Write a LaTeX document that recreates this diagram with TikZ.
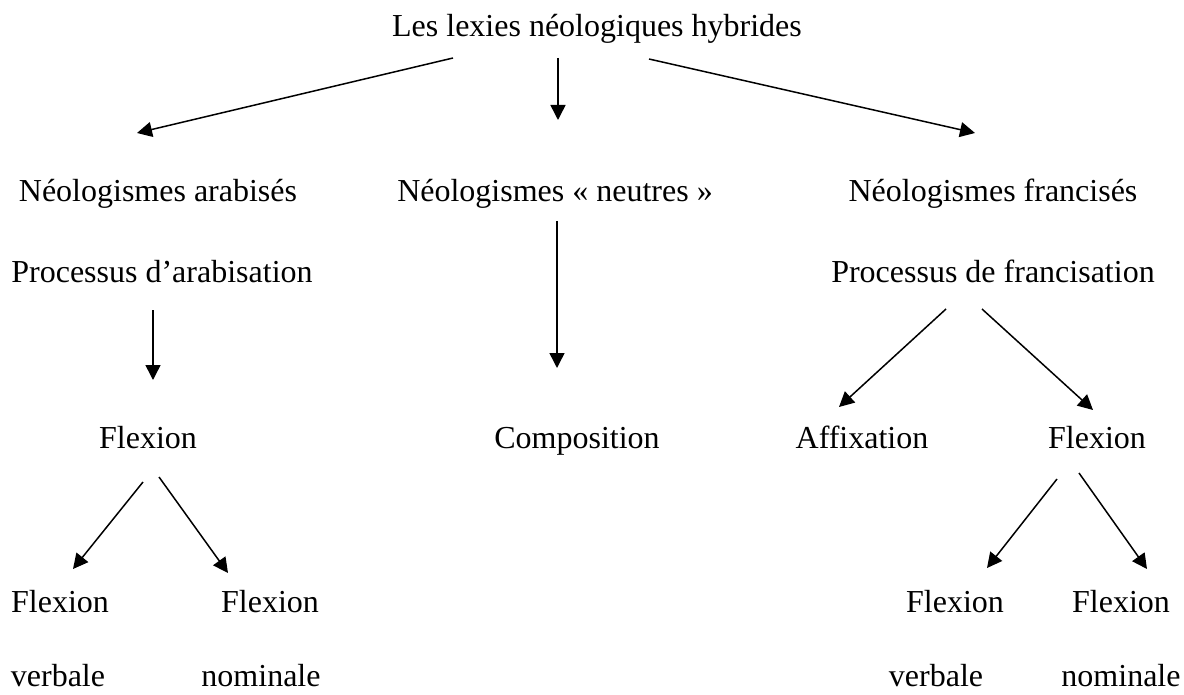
\documentclass[tikz,border=0pt]{standalone}
\usepackage{fontspec}
\setmainfont{Liberation Serif}
\usetikzlibrary{arrows.meta}
\begin{document}
\begin{tikzpicture}[x=1pt,y=-1pt,
  lbl/.style={inner sep=0pt,anchor=base,font=\fontsize{32}{38}\selectfont},
  arr/.style={line width=1.5pt,-{Triangle[length=15pt,width=15pt]}}]
\useasboundingbox (0,0) rectangle (1184,695);
\node[lbl] (top) at (597,37) {Les lexies néologiques hybrides};
\node[lbl] (arab) at (158,202) {Néologismes arabisés};
\node[lbl] (neutre) at (555,202) {Néologismes « neutres »};
\node[lbl] (franc) at (993,202) {Néologismes francisés};
\node[lbl] (parab) at (162,283) {Processus d’arabisation};
\node[lbl] (pfranc) at (993,283) {Processus de francisation};
\node[lbl] (flexA) at (148,448) {Flexion};
\node[lbl] (compo) at (577,448) {Composition};
\node[lbl] (affix) at (862,448) {Affixation};
\node[lbl] (flexF) at (1097,448) {Flexion};
\node[lbl] (fvA) at (60,612) {Flexion};
\node[lbl] (fnA) at (270,612) {Flexion};
\node[lbl] (fvF) at (955,612) {Flexion};
\node[lbl] (fnF) at (1121,612) {Flexion};
\node[lbl] (verbA) at (58,686) {verbale};
\node[lbl] (nomA) at (261,686) {nominale};
\node[lbl] (verbF) at (936,686) {verbale};
\node[lbl] (nomF) at (1121,686) {nominale};
\draw[arr] ([shift={(-144,21)}]top.base) -- ([shift={(-21,-69)}]arab.base);
\draw[arr] ([shift={(-39,21)}]top.base) -- ([shift={(3,-82)}]neutre.base);
\draw[arr] ([shift={(52,22)}]top.base) -- ([shift={(-18,-69)}]franc.base);
\draw[arr] ([shift={(-9,27)}]parab.base) -- ([shift={(5,-68)}]flexA.base);
\draw[arr] ([shift={(-5,34)}]flexA.base) -- ([shift={(13,-43)}]fvA.base);
\draw[arr] ([shift={(11,29)}]flexA.base) -- ([shift={(-42,-39)}]fnA.base);
\draw[arr] ([shift={(2,19)}]neutre.base) -- ([shift={(-20,-80)}]compo.base);
\draw[arr] ([shift={(-47,26)}]pfranc.base) -- ([shift={(-23,-41)}]affix.base);
\draw[arr] ([shift={(-11,26)}]pfranc.base) -- ([shift={(-4,-38)}]flexF.base);
\draw[arr] ([shift={(-40,31)}]flexF.base) -- ([shift={(32,-44)}]fvF.base);
\draw[arr] ([shift={(-18,25)}]flexF.base) -- ([shift={(26,-43)}]fnF.base);
\end{tikzpicture}
\end{document}
